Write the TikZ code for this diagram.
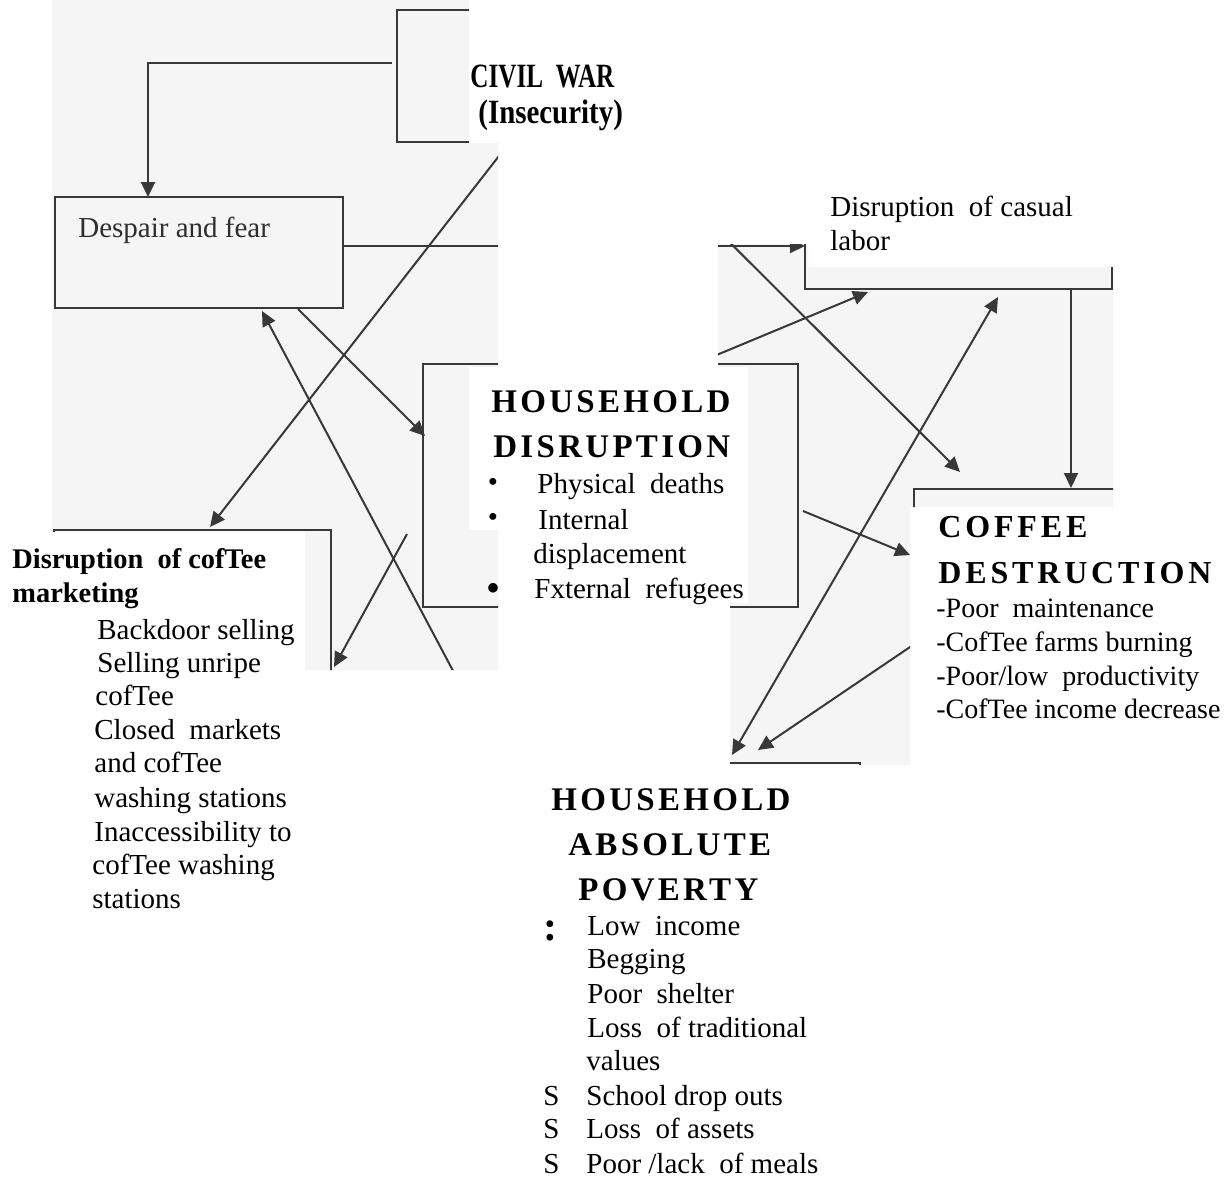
\documentclass[tikz,border=0pt]{standalone}
\usepackage{fontspec}
\setmainfont{Liberation Serif}
\newfontfamily\hdfont[LetterSpace=10]{Liberation Serif}
\newfontfamily\cdfont[LetterSpace=12]{Liberation Serif}
\newfontfamily\cwfont[FakeStretch=0.74]{Liberation Serif}
\newfontfamily\insfont[FakeStretch=0.85]{Liberation Serif}
\usetikzlibrary{arrows.meta}
\begin{document}
\begin{tikzpicture}[x=0.5pt,y=-0.5pt,
  patch/.style={fill=black!4},
  scanline/.style={draw=black!78, line width=1pt},
  arr/.style={scanline, -{Triangle[length=7.5pt,width=7pt]}},
  darr/.style={scanline, {Triangle[length=7.5pt,width=7pt]}-{Triangle[length=7.5pt,width=7pt]}},
  txt/.style={anchor=base west, inner sep=0pt, font=\fontsize{14.5}{17}\selectfont},
  smalltxt/.style={txt, font=\fontsize{14}{17}\selectfont},
  scantxt/.style={txt, text=black!82},
  head/.style={anchor=base west, inner sep=0pt, font=\fontsize{17}{18}\selectfont\cwfont\bfseries},
  inshead/.style={anchor=base west, inner sep=0pt, font=\fontsize{17}{18}\selectfont\insfont\bfseries},
  hdhead/.style={anchor=base west, inner sep=0pt, font=\fontsize{16.5}{18}\selectfont\hdfont\bfseries},
  cdhead/.style={anchor=base west, inner sep=0pt, font=\fontsize{16}{18}\selectfont\cdfont\bfseries},
  mkhead/.style={anchor=base west, inner sep=0pt, font=\fontsize{14.2}{17}\selectfont\bfseries},
  bul/.style={anchor=center, inner sep=0pt, font=\fontsize{14.5}{17}\selectfont}
]
\useasboundingbox (0,0) rectangle (1232,1178);
\fill[white] (0,0) rectangle (1232,1178);

% scanned patches
\fill[patch] (52,0) -- (469,0) -- (469,143) -- (498,143) -- (498,367) -- (469,367) -- (469,530) -- (498,530) -- (498,670) -- (305,670) -- (305,532) -- (52,532) -- cycle;
\fill[patch] (718,244) -- (808,244) -- (808,267) -- (1113,267) -- (1113,507) -- (910,507) -- (910,765) -- (730,765) -- (730,603) -- (748,603) -- (748,367) -- (718,367) -- cycle;

% named points of the scanned boxes
\coordinate (cwTL) at (397,10);   \coordinate (cwBR) at (600,142);
\coordinate (dfTL) at (55,197);   \coordinate (dfBR) at (343,308);
\coordinate (hdTL) at (423,364);  \coordinate (hdBR) at (798,607);
\coordinate (clTL) at (805,150);  \coordinate (clBR) at (1112,289);
\coordinate (cdTL) at (914,489);  \coordinate (cdBR) at (1250,800);
\coordinate (mkTL) at (54,530);   \coordinate (mkBR) at (331,900);
\coordinate (apTL) at (600,763);  \coordinate (apBR) at (860,1000);

% connector end points
\coordinate (cwL)   at (392,63);
\coordinate (bend1) at (148,63);
\coordinate (dfT)   at (148,197);
\coordinate (dfR)   at (343,246);
\coordinate (clL)   at (805,246);
\coordinate (cwS)   at (527,120);
\coordinate (mkT)   at (210,527);
\coordinate (dfB1)  at (298,309);
\coordinate (hdL)   at (425,436);
\coordinate (apS)   at (502,763);
\coordinate (dfB2)  at (262,311);
\coordinate (hdS)   at (407,534);
\coordinate (mkR)   at (334,667);
\coordinate (cwS2)  at (607,120);
\coordinate (cdT1)  at (960,472);
\coordinate (hdT)   at (695,364);
\coordinate (clB1)  at (868,292);
\coordinate (clB2)  at (998,297);
\coordinate (apT1)  at (732,755);
\coordinate (clB3)  at (1071,289);
\coordinate (cdT2)  at (1071,488);
\coordinate (hdR)   at (803,511);
\coordinate (cdL1)  at (910,555);
\coordinate (cdL2)  at (913,645);
\coordinate (apT2)  at (758,750);

\begin{scope}
\clip (52,0) -- (469,0) -- (469,143) -- (498,143) -- (498,367) -- (469,367) -- (469,530) -- (498,530) -- (498,670) -- (305,670) -- (305,532) -- (52,532) -- cycle
      (718,244) -- (808,244) -- (808,267) -- (1113,267) -- (1113,507) -- (910,507) -- (910,765) -- (730,765) -- (730,603) -- (748,603) -- (748,367) -- (718,367) -- cycle;
% boxes
\draw[scanline] (cwTL) rectangle (cwBR);
\draw[scanline] (dfTL) rectangle (dfBR);
\draw[scanline] (hdTL) rectangle (hdBR);
\draw[scanline] (clTL) rectangle (clBR);
\draw[scanline] (cdTL) rectangle (cdBR);
\draw[scanline] (mkTL) rectangle (mkBR);
\draw[scanline] (apTL) rectangle (apBR);
% connectors
\draw[arr] (cwL) -- (bend1) -- (dfT);
\draw[arr] (dfR) -- (clL);
\draw[arr] (cwS) -- (mkT);
\draw[arr] (dfB1) -- (hdL);
\draw[arr] (apS) -- (dfB2);
\draw[arr] (hdS) -- (mkR);
\draw[arr] (cwS2) -- (cdT1);
\draw[arr] (hdT) -- (clB1);
\draw[darr] (clB2) -- (apT1);
\draw[arr] (clB3) -- (cdT2);
\draw[arr] (hdR) -- (cdL1);
\draw[arr] (cdL2) -- (apT2);
% scanned label
\node[scantxt] (despair) at (78,237) {Despair and fear};
\end{scope}

% CIVIL WAR
\node[head] (cw1) at (470,87) {CIVIL\ \ WAR};
\node[inshead] (cw2) at (478,123) {(Insecurity)};

% casual labor
\node[txt] (cl1) at (830,216) {Disruption\ \ of casual};
\node[txt] (cl2) at (830,250) {labor};

% household disruption
\node[hdhead] (hd1) at (491,412) {HOUSEHOLD};
\node[hdhead] (hd2) at (493,457) {DISRUPTION};
\node[bul] (b1) at (493,485) {•};
\node[bul] (b2) at (493,520) {•};
\node[bul, font=\fontsize{20}{20}\selectfont] (b3) at (493,592) {•};
\node[txt] (hd3) at (537,493) {Physical\ \ deaths};
\node[txt] (hd4) at (538,529) {Internal};
\node[txt] (hd5) at (533,563) {displacement};
\node[txt] (hd6) at (534,598) {Fxternal\ \ refugees};

% coffee destruction
\node[cdhead] (cd1) at (938,537) {COFFEE};
\node[cdhead] (cd2) at (938,583) {DESTRUCTION};
\node[smalltxt] (cd3) at (936,617) {-Poor\ \ maintenance};
\node[smalltxt] (cd4) at (936,651) {-CofTee farms burning};
\node[smalltxt] (cd5) at (936,685) {-Poor/low\ \ productivity};
\node[smalltxt] (cd6) at (936,718) {-CofTee income decrease};

% coffee marketing
\node[mkhead] (mk1) at (12,568) {Disruption\ \ of cofTee};
\node[mkhead] (mk2) at (12,602) {marketing};
\node[txt] (mk3) at (97,639) {Backdoor selling};
\node[txt] (mk4) at (97,672) {Selling unripe};
\node[txt] (mk5) at (95,705) {cofTee};
\node[txt] (mk6) at (94,739) {Closed\ \ markets};
\node[txt] (mk7) at (94,772) {and cofTee};
\node[txt] (mk8) at (94,807) {washing stations};
\node[txt] (mk9) at (94,841) {Inaccessibility to};
\node[txt] (mk10) at (92,874) {cofTee washing};
\node[txt] (mk11) at (92,908) {stations};

% household absolute poverty
\node[hdhead] (ap1) at (551,810) {HOUSEHOLD};
\node[hdhead] (ap2) at (568,855) {ABSOLUTE};
\node[hdhead] (ap3) at (578,900) {POVERTY};
\node[anchor=base west, inner sep=0pt, font=\fontsize{21}{21}\selectfont\bfseries] (apc) at (543,940) {:};
\node[txt] (ap4) at (587,935) {Low\ \ income};
\node[txt] (ap5) at (587,968) {Begging};
\node[txt] (ap6) at (587,1003) {Poor\ \ shelter};
\node[txt] (ap7) at (587,1037) {Loss\ \ of traditional};
\node[txt] (ap8) at (586,1070) {values};
\node[txt] (s1) at (543,1105) {S};
\node[txt] (s2) at (543,1138) {S};
\node[txt] (s3) at (543,1173) {S};
\node[txt] (ap9) at (586,1105) {School drop outs};
\node[txt] (ap10) at (586,1138) {Loss\ \ of assets};
\node[txt] (ap11) at (586,1173) {Poor /lack\ \ of meals};
\end{tikzpicture}
\end{document}
